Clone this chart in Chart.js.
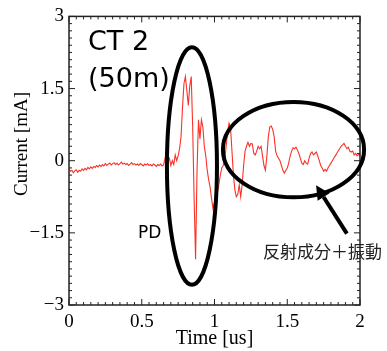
<!DOCTYPE html>
<html>
<head>
<meta charset="utf-8">
<script src="https://cdn.jsdelivr.net/npm/chart.js@4.4.1/dist/chart.umd.min.js"></script>
<style>
  html, body { margin: 0; padding: 0; background: #fff; }
  #contenedor { width: 387px; height: 351px; }
</style>
</head>
<body>
<div id="contenedor"><canvas id="grafica" width="387" height="351"></canvas></div>
<script>
// muestreo cada 0.01 us, de 0 a 2 us
const PASO_US = 0.01;
const corrienteMA = [
    -0.18, -0.22, -0.2, -0.25, -0.21, -0.19, -0.24, -0.2, -0.22, -0.17,
    -0.2, -0.16, -0.19, -0.14, -0.17, -0.13, -0.16, -0.12, -0.14, -0.1,
    -0.13, -0.09, -0.12, -0.08, -0.11, -0.06, -0.1, -0.07, -0.05, -0.09,
    -0.06, -0.04, -0.08, -0.05, -0.09, -0.06, -0.03, -0.07, -0.05, -0.08,
    -0.06, -0.1, -0.07, -0.04, -0.08, -0.06, -0.09, -0.07, -0.1, -0.06,
    -0.08, -0.11, -0.07, -0.09, -0.06, -0.1, -0.08, -0.11, -0.07, -0.09,
    -0.12, -0.08, -0.1, -0.07, -0.11, -0.09,
    0.05, -0.05, 0.1, 0.05, -0.1, 0.0, -0.08, 0.12, 0.0, 0.1,
    0.25, 0.5, 1.1, 1.6, 1.75, 1.45, 1.15, 1.55, 1.75, 0.7,
    -0.8, -2.05, -0.2, 0.85, 0.45, 0.85, 0.7, 0.3, 0.1, -0.2,
    -0.4, -0.55, -0.8, -1.0, -0.85, -0.75, -0.65, -0.5, -0.3, -0.15,
    -0.1, 0.0, 0.3, 0.6, 0.78, 0.7, 0.2, -0.3, -0.6, -0.75,
    -0.7, -0.5, -0.75, -0.5, -0.1, 0.2, 0.3, 0.38, 0.3, 0.36,
    0.35, 0.15, 0.12, 0.2, 0.3, 0.25, 0.3, 0.1, -0.1, -0.2,
    0.1, 0.5, 0.7, 0.72, 0.65, 0.5, 0.2, 0.1, 0.05, 0.0,
    -0.1, -0.2, -0.26, -0.2, -0.15, -0.05, 0.1, 0.2, 0.27, 0.25,
    0.28, 0.22, 0.15, 0.05, -0.05, -0.08, 0.0, -0.05, -0.07, 0.05,
    0.15, 0.18, 0.12, 0.15, 0.18, 0.1, 0.0, -0.1, -0.15, -0.22,
    -0.18, -0.22, -0.15, -0.1, -0.05, 0.0, 0.05, 0.1, 0.15, 0.2,
    0.25, 0.3, 0.33, 0.36, 0.3, 0.25, 0.28, 0.2, 0.18, 0.2,
    0.12, 0.15, 0.1, 0.13, 0.1
];
const tiempoUs = corrienteMA.map((_, k) => +(k * PASO_US).toFixed(2));

const ticksX = [0, 0.5, 1, 1.5, 2];
const ticksY = [-3, -1.5, 0, 1.5, 3];

// anotaciones en unidades de datos (us, mA)
const elipsePD = { t: 0.845, i: -0.11, rt: 0.172, ri: 2.47 };
const elipseReflexion = { t: 1.543, i: 0.23, rt: 0.485, ri: 0.99 };
const flecha = { desde: [1.91, -1.515], hasta: [1.698, -0.509] };

const menos = v => (v < 0 ? '\u2212' + Math.abs(v) : String(v));

const decoraciones = {
    id: 'decoraciones',
    afterDatasetsDraw(chart) {
        const { ctx, chartArea: a, scales: { x, y } } = chart;
        ctx.save();

        // marco con marcas hacia dentro
        ctx.strokeStyle = '#222';
        ctx.lineWidth = 1.5;
        ctx.strokeRect(a.left, a.top, a.right - a.left, a.bottom - a.top);
        ctx.lineWidth = 1;
        ctx.beginPath();
        for (let k = 0; k <= 40; k++) {
            const px = x.getPixelForValue(k * 0.05);
            const len = k % 10 === 0 ? 6 : 3;
            ctx.moveTo(px, a.bottom); ctx.lineTo(px, a.bottom - len);
            ctx.moveTo(px, a.top); ctx.lineTo(px, a.top + len);
            const py = y.getPixelForValue(-3 + k * 0.15);
            ctx.moveTo(a.left, py); ctx.lineTo(a.left + len, py);
            ctx.moveTo(a.right, py); ctx.lineTo(a.right - len, py);
        }
        ctx.stroke();

        // elipses
        ctx.strokeStyle = '#000';
        ctx.lineWidth = 4;
        [elipsePD, elipseReflexion].forEach(e => {
            const cx = x.getPixelForValue(e.t);
            const cy = y.getPixelForValue(e.i);
            const rx = Math.abs(x.getPixelForValue(e.t + e.rt) - cx);
            const ry = Math.abs(y.getPixelForValue(e.i + e.ri) - cy);
            ctx.beginPath();
            ctx.ellipse(cx, cy, rx, ry, 0, 0, Math.PI * 2);
            ctx.stroke();
        });

        // flecha
        const x0 = x.getPixelForValue(flecha.desde[0]);
        const y0 = y.getPixelForValue(flecha.desde[1]);
        const x1 = x.getPixelForValue(flecha.hasta[0]);
        const y1 = y.getPixelForValue(flecha.hasta[1]);
        const ang = Math.atan2(y1 - y0, x1 - x0);
        const largo = 14, ancho = 7;
        const bx = x1 - largo * Math.cos(ang);
        const by = y1 - largo * Math.sin(ang);
        ctx.beginPath();
        ctx.moveTo(x0, y0);
        ctx.lineTo(bx, by);
        ctx.stroke();
        ctx.fillStyle = '#000';
        ctx.beginPath();
        ctx.moveTo(x1, y1);
        ctx.lineTo(bx + ancho * Math.sin(ang), by - ancho * Math.cos(ang));
        ctx.lineTo(bx - ancho * Math.sin(ang), by + ancho * Math.cos(ang));
        ctx.closePath();
        ctx.fill();

        // textos
        ctx.fillStyle = '#000';
        ctx.textAlign = 'left';
        ctx.textBaseline = 'alphabetic';
        ctx.font = '27px "DejaVu Sans"';
        ctx.fillText('CT 2', 88, 50);
        ctx.fillText('(50m)', 88, 87);
        ctx.font = '17px "DejaVu Sans"';
        ctx.fillText('PD', 138, 238);
        ctx.fillStyle = '#222';
        ctx.font = '17px "Noto Sans CJK JP"';
        ctx.fillText('反射成分＋振動', 263, 258);

        // títulos de ejes
        ctx.fillStyle = '#000';
        ctx.font = '20px "Liberation Serif"';
        ctx.textAlign = 'center';
        ctx.textBaseline = 'middle';
        ctx.fillText('Time [us]', (a.left + a.right) / 2, 339);
        ctx.font = '19px "Liberation Serif"';
        ctx.translate(22, 144);
        ctx.rotate(-Math.PI / 2);
        ctx.fillText('Current [mA]', 0, 0);

        ctx.restore();
    }
};

const ctx = document.getElementById('grafica').getContext('2d');
const myChart = new Chart(ctx, {
    type: 'line',
    data: {
        datasets: [{
            data: tiempoUs.map((t, k) => ({ x: t, y: corrienteMA[k] })),
            borderColor: 'rgb(250, 50, 40)',
            borderWidth: 1.1,
            pointRadius: 0,
            tension: 0,
            fill: false
        }]
    },
    options: {
        responsive: false,
        animation: false,
        devicePixelRatio: 1,
        layout: { padding: { top: 16, right: 27, left: 0, bottom: 0 } },
        scales: {
            x: {
                type: 'linear',
                min: 0,
                max: 2,
                afterBuildTicks: s => { s.ticks = ticksX.map(v => ({ value: v })); },
                afterFit: s => { s.height = 46; },
                grid: { display: false, drawTicks: false },
                border: { display: false },
                ticks: {
                    color: '#000',
                    padding: 6,
                    maxRotation: 0,
                    font: { family: 'Liberation Serif', size: 19 },
                    callback: v => menos(v)
                }
            },
            y: {
                type: 'linear',
                min: -3,
                max: 3,
                afterBuildTicks: s => { s.ticks = ticksY.map(v => ({ value: v })); },
                afterFit: s => { s.width = 69; },
                grid: { display: false, drawTicks: false },
                border: { display: false },
                ticks: {
                    color: '#000',
                    padding: 5,
                    font: { family: 'Liberation Serif', size: 19 },
                    callback: v => menos(v)
                }
            }
        },
        plugins: {
            legend: { display: false },
            tooltip: { enabled: false }
        }
    },
    plugins: [decoraciones]
});
</script>
</body>
</html>
